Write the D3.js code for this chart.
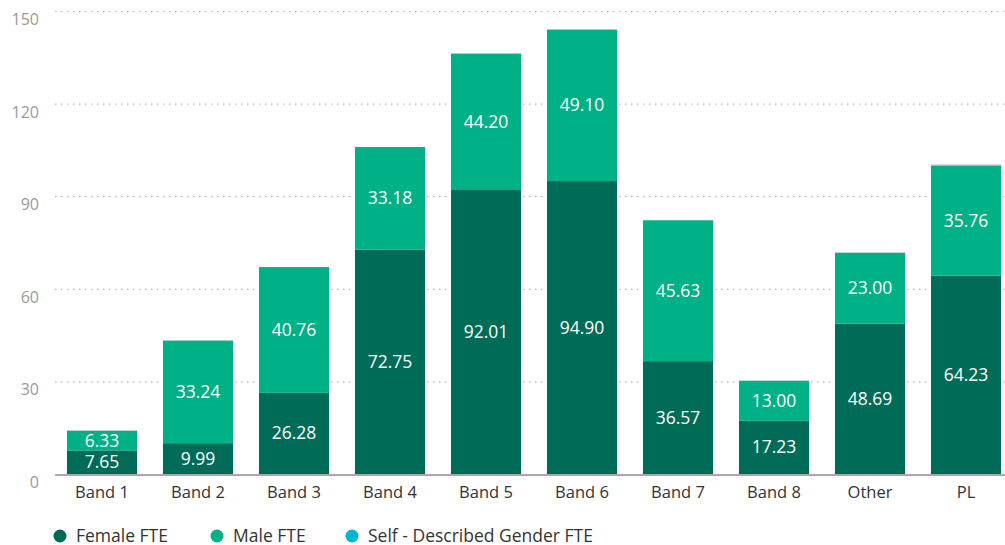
<!DOCTYPE html>
<html>
<head>
<meta charset="utf-8">
<script src="https://cdn.jsdelivr.net/npm/d3@7"></script>
<style>
  body { margin: 0; background: #fff; }
  text { font-family: "Source Sans Pro", "Open Sans", "Noto Sans", sans-serif; }
</style>
</head>
<body>
<div id="chart-area"></div>
<script>
// data
var bands = ["Band 1", "Band 2", "Band 3", "Band 4", "Band 5", "Band 6", "Band 7", "Band 8", "Other", "PL"];
var femaleFTE = [7.65, 9.99, 26.28, 72.75, 92.01, 94.90, 36.57, 17.23, 48.69, 64.23];
var maleFTE = [6.33, 33.24, 40.76, 33.18, 44.20, 49.10, 45.63, 13.00, 23.00, 35.76];
var selfFTE = [0.3, 0, 0, 0, 0, 0, 0, 0, 0.2, 0.3];
var yTicks = [0, 30, 60, 90, 120, 150];
var seriesNames = ["Female FTE", "Male FTE", "Self - Described Gender FTE"];
var colors = ["#006b57", "#00b086", "#00b5d0"];

var W = 1005, H = 545;
var svg = d3.select("#chart-area").append("svg")
    .attr("width", W).attr("height", H);

var x = d3.scaleBand().domain(bands).range([54, 1014])
    .paddingInner(0.27).paddingOuter(0.135);
var y = d3.scaleLinear().domain([0, 150]).range([474, 11]);

// grid
svg.selectAll(".grid").data(yTicks.filter(function(d){ return d > 0; }))
  .enter().append("line")
    .attr("x1", 55).attr("x2", W)
    .attr("y1", function(d){ return y(d) + 0.5; })
    .attr("y2", function(d){ return y(d) + 0.5; })
    .attr("stroke", "#b5b5b5")
    .attr("stroke-width", 1.2)
    .attr("stroke-dasharray", "1.5,4.5");

svg.selectAll(".ytick").data(yTicks)
  .enter().append("text")
    .attr("x", 39).attr("y", function(d){ return y(d) + 14; })
    .attr("text-anchor", "end")
    .attr("fill", "#9a9a9a")
    .attr("font-size", 16)
    .text(function(d){ return d; });

// stacks
var rows = bands.map(function(b, i){
  return { band: b, f: femaleFTE[i], m: maleFTE[i], s: selfFTE[i] };
});
var stack = d3.stack().keys(["f", "m", "s"]);
var layers = stack(rows);
var fills = [colors[0], colors[1], "#c4c9c9"];

var g = svg.selectAll(".layer").data(layers).enter().append("g")
    .attr("fill", function(d, i){ return fills[i]; });

g.selectAll("rect").data(function(d){ return d; })
  .enter().append("rect")
    .attr("x", function(d){ return x(d.data.band); })
    .attr("width", x.bandwidth())
    .attr("y", function(d){ return y(d[1]); })
    .attr("height", function(d){ return y(d[0]) - y(d[1]); });

// value labels for female and male
layers.slice(0, 2).forEach(function(layer){
  svg.selectAll(null).data(layer).enter().append("text")
    .attr("x", function(d){ return x(d.data.band) + x.bandwidth() / 2; })
    .attr("y", function(d){ return (y(d[0]) + y(d[1])) / 2 + 6; })
    .attr("text-anchor", "middle")
    .attr("fill", "#fff")
    .attr("font-size", 17.5)
    .text(function(d){ return (d[1] - d[0]).toFixed(2); });
});

// baseline
svg.append("line")
    .attr("x1", 55).attr("x2", W)
    .attr("y1", y(0) + 1).attr("y2", y(0) + 1)
    .attr("stroke", "#a9a9a9").attr("stroke-width", 2);

// category labels
svg.selectAll(".xl").data(bands).enter().append("text")
    .attr("x", function(d){ return x(d) + x.bandwidth() / 2; })
    .attr("y", 498)
    .attr("text-anchor", "middle")
    .attr("fill", "#333")
    .attr("font-size", 16.5)
    .text(function(d){ return d; });

// legend
var legX = [60, 217, 352];
var leg = svg.selectAll(".leg").data(seriesNames).enter().append("g")
    .attr("transform", function(d, i){ return "translate(" + legX[i] + ",536)"; });
leg.append("circle").attr("r", 6.5).attr("fill", function(d, i){ return colors[i]; });
leg.append("text").attr("x", 16).attr("y", 5.5)
    .attr("fill", "#333").attr("font-size", 17.5)
    .text(function(d){ return d; });
</script>
</body>
</html>
